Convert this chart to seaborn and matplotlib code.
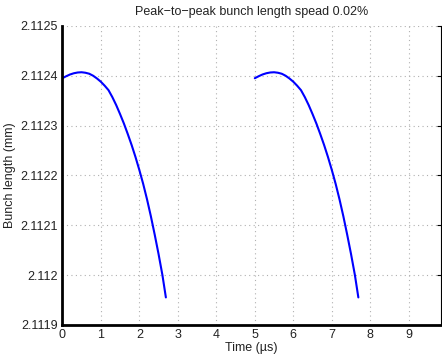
import pandas as pd
import seaborn as sns
import matplotlib.pyplot as plt
from matplotlib.ticker import FixedLocator

# first pulse
time_1 = [0, 0.1, 0.2, 0.3, 0.4, 0.5, 0.6, 0.7, 0.8, 0.9, 1.0, 1.1, 1.2, 1.3, 1.4, 1.5,
          1.6, 1.7, 1.8, 1.9, 2.0, 2.1, 2.2, 2.3, 2.4, 2.5, 2.6, 2.69]
# second pulse, same shape 5 us later
time_2 = [5.0, 5.1, 5.2, 5.3, 5.4, 5.5, 5.6, 5.7, 5.8, 5.9, 6.0, 6.1, 6.2, 6.3, 6.4, 6.5,
          6.6, 6.7, 6.8, 6.9, 7.0, 7.1, 7.2, 7.3, 7.4, 7.5, 7.6, 7.69]
length_mm = [2.112395, 2.112399, 2.1124025, 2.112405, 2.1124065, 2.112407, 2.112406, 2.112404,
             2.112400, 2.1123945, 2.112388, 2.112380, 2.112371, 2.112357, 2.112341, 2.112323,
             2.112304, 2.112283, 2.112261, 2.112237, 2.112211, 2.112183, 2.112152, 2.112118,
             2.112081, 2.112042, 2.112000, 2.111955]

yticks = [2.1119, 2.112, 2.1121, 2.1122, 2.1123, 2.1124, 2.1125]
ytick_labels = ["2.1119", "2.112", "2.1121", "2.1122", "2.1123", "2.1124", "2.1125"]
xticks = [0, 1, 2, 3, 4, 5, 6, 7, 8, 9]

df = pd.DataFrame({
    "time": time_1 + time_2,
    "length": length_mm + length_mm,
    "pulse": [1] * len(time_1) + [2] * len(time_2),
})

sns.set_style("white")
plt.rcParams["font.family"] = ["Liberation Sans", "DejaVu Sans"]
plt.rcParams["font.size"] = 9

fig = plt.figure(figsize=(4.42, 3.55), dpi=100)
ax = fig.add_axes([0.141, 0.085, 0.857, 0.842])

sns.lineplot(data=df, x="time", y="length", units="pulse", estimator=None,
             sort=False, color="#0000ff", linewidth=1.5, ax=ax)

ax.set_xlim(0, 9.84)
ax.set_ylim(2.1119, 2.1125)
ax.xaxis.set_major_locator(FixedLocator(xticks))
ax.set_xticklabels([str(t) for t in xticks])
ax.yaxis.set_major_locator(FixedLocator(yticks))
ax.set_yticklabels(ytick_labels)

ax.grid(True, color="#b0b0b0", linestyle=(0, (1, 3)), linewidth=0.8)
ax.tick_params(direction="in", length=3, width=0.8, color="black",
               labelsize=9, labelcolor="#222222", pad=3, right=True)

for side in ["left", "bottom"]:
    ax.spines[side].set_linewidth(2)
    ax.spines[side].set_color("black")
ax.spines["right"].set_linewidth(0.8)
ax.spines["right"].set_color("black")
ax.spines["top"].set_visible(False)

ax.set_title("Peak\u2212to\u2212peak bunch length spead 0.02%", fontsize=9, color="#222222", pad=8)
ax.set_xlabel("Time (\u00b5s)", fontsize=9, color="#222222", labelpad=1)
ax.set_ylabel("Bunch length (mm)", fontsize=9, color="#222222", labelpad=3)

fig.savefig("out.png", dpi=100)
